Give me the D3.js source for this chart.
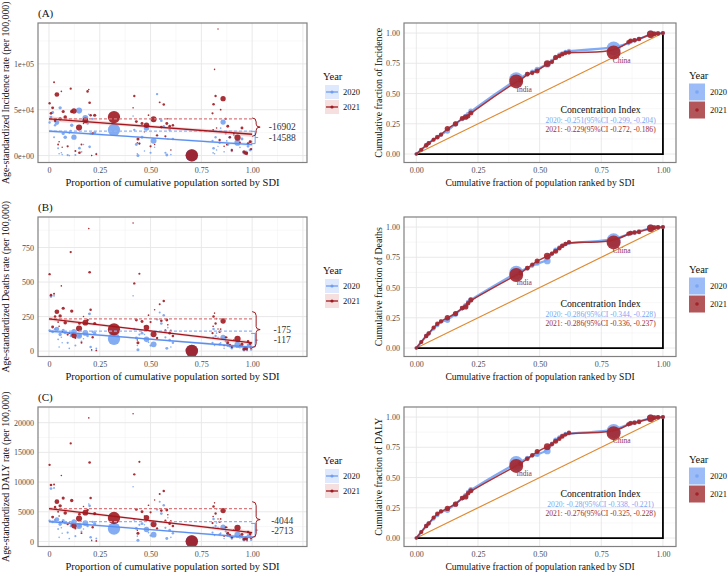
<!DOCTYPE html>
<html>
<head>
<meta charset="utf-8">
<script src="https://cdn.jsdelivr.net/npm/d3@7"></script>
<style>
  body { margin: 0; background: #fff; }
  svg { display: block; }
  text { font-family: "Liberation Serif", "Times New Roman", serif; }
</style>
</head>
<body>
<svg id="chart" width="728" height="572" font-family="Liberation Serif, serif"></svg>
<script>
// ---- left panels: countries, position on cumulative population sorted by SDI ----
const sdiPos = [0.003, 0.010, 0.018, 0.025, 0.030, 0.039, 0.045, 0.055, 0.061, 0.070,
  0.080, 0.092, 0.107, 0.112, 0.123, 0.130, 0.148, 0.160, 0.179, 0.190,
  0.196, 0.200, 0.205, 0.215, 0.225, 0.233, 0.320, 0.414, 0.420, 0.430,
  0.438, 0.445, 0.458, 0.480, 0.500, 0.515, 0.532, 0.545, 0.553, 0.565,
  0.573, 0.580, 0.594, 0.610, 0.703, 0.805, 0.810, 0.815, 0.820, 0.832,
  0.840, 0.857, 0.870, 0.880, 0.890, 0.900, 0.928, 0.950, 0.960, 0.970,
  0.980, 0.990, 0.995,
  0.050, 0.065, 0.100, 0.150, 0.170, 0.210, 0.435, 0.470, 0.490, 0.520,
  0.585, 0.600, 0.808, 0.825, 0.845, 0.862, 0.875, 0.910, 0.940, 0.975]
const popM = [20, 30, 40, 10, 25, 150, 8, 60, 4, 50,
  70, 15, 18, 60, 200, 12, 280, 9, 250, 25,
  4, 30, 25, 20, 50, 8, 1380, 3, 20, 40,
  45, 15, 40, 220, 15, 260, 20, 10, 30, 25,
  15, 40, 30, 25, 1400, 15, 25, 3, 20, 2,
  20, 200, 15, 40, 25, 20, 300, 40, 60, 80,
  30, 40, 20,
  4, 3, 5, 30, 3, 2, 3, 3, 5, 3,
  4, 4, 5, 4, 6, 4, 5, 6, 5, 5]
const inc2020 = [36000, 42000, 47000, 20000, 33000, 36000, 8000, 52000, 3000, 24000,
  20000, 500, 27000, 33000, 20000, 500, 49000, 4000, 41000, 35000,
  45000, 9500, 24000, 40000, 25000, 2000, 28000, 43000, 28000, 12000,
  100, 13000, 20000, 30000, 3000, 16000, 67000, 40000, 38000, 32000,
  3000, 500, 28000, 18000, 200, 16000, 8000, 2000, 20000, 10000,
  14000, 36500, 24000, 12000, 20000, 5000, 14000, 18000, 3000, 3500,
  10000, 6000, 15000,
  2000, 1000, 0, 8000, 12000, 0, 2000, 5000, 33000, 9000,
  18000, 1000, 3000, 6000, 30000, 4000, 16000, 22000, 9000, 1000]
const inc2021 = [57000, 46000, 52000, 80000, 38000, 66600, 12000, 40000, 70000, 48000,
  42000, 10000, 73000, 48000, 48600, 5000, 30500, 12000, 38400, 70000,
  72000, 57600, 44000, 24000, 44000, 1400, 42000, 52000, 65000, 37000,
  18000, 13000, 35000, 33000, 10000, 39500, 22000, 58000, 31000, 55600,
  21000, 35000, 32000, 33000, 200, 46000, 56000, 94000, 65000, 138000,
  17000, 62000, 40000, 32000, 20000, 6000, 19600, 30000, 4000, 2500,
  13000, 15000, 7000,
  15000, 9000, 25000, 3000, 35000, 0, 14000, 26000, 44000, 12000,
  40000, 6000, 28000, 30000, 50000, 10000, 12000, 24000, 14000, 3000]
const dth2020 = [150, 395, 140, 400, 158, 160, 85, 120, 100, 150,
  135, 60, 110, 125, 140, 40, 111, 70, 132, 110,
  270, 270, 30, 140, 130, 20, 89, 400, 160, 95,
  10, 120, 130, 85, 40, 49, 230, 280, 200, 260,
  100, 20, 80, 60, 1, 60, 160, 40, 110, 100,
  50, 100, 70, 40, 35, 20, 45, 35, 10, 25,
  45, 40, 12,
  30, 60, 20, 110, 90, 5, 40, 120, 65, 140,
  170, 30, 100, 130, 60, 20, 55, 30, 25, 5]
const dth2021 = [557, 405, 175, 415, 250, 285, 210, 255, 472, 310,
  205, 120, 717, 290, 113, 95, 164, 60, 206, 225,
  887, 571, 300, 100, 200, 5, 157, 928, 490, 225,
  60, 560, 215, 170, 210, 122, 95, 340, 220, 363,
  150, 225, 130, 110, 1, 130, 250, 275, 200, 160,
  140, 218, 100, 60, 45, 30, 89, 50, 15, 20,
  70, 55, 25,
  180, 140, 130, 200, 250, 10, 80, 180, 260, 300,
  190, 150, 180, 235, 160, 40, 100, 80, 40, 10]
const daly2020 = [3500, 8900, 3300, 9000, 3600, 3700, 2100, 2900, 2300, 3500,
  3200, 1500, 2600, 2950, 3300, 900, 2600, 1700, 3100, 2600,
  6300, 6000, 700, 3300, 3000, 500, 2150, 9200, 3700, 2200,
  200, 2800, 3000, 2000, 1000, 1150, 5400, 6700, 4700, 6100,
  2300, 500, 1900, 1400, 20, 1500, 3800, 1000, 2600, 2400,
  1200, 2400, 1700, 1000, 900, 500, 1100, 800, 300, 600,
  1000, 900, 300,
  700, 1400, 500, 2600, 2100, 100, 900, 2800, 1500, 3300,
  4000, 700, 2400, 3100, 1400, 500, 1300, 700, 600, 100]
const daly2021 = [12900, 9500, 4100, 9600, 5800, 6700, 5000, 6000, 11100, 7300,
  4800, 2900, 16500, 6900, 2650, 2200, 3850, 1400, 4850, 5300,
  20800, 13300, 7300, 2400, 4700, 100, 3950, 21500, 11300, 5400,
  1400, 13400, 5000, 4000, 4900, 2900, 2200, 8000, 5200, 8500,
  3500, 5300, 3000, 2600, 20, 3100, 5900, 6500, 4700, 3800,
  3300, 5200, 2400, 1400, 1100, 700, 2300, 1200, 400, 500,
  1600, 1300, 600,
  4300, 3300, 3100, 4600, 5900, 200, 1900, 4300, 6100, 7000,
  4500, 3500, 4200, 5500, 3800, 900, 2400, 1900, 900, 250]

// slope index of inequality: intercept and slope, [2020, 2021]
const incIntercept = [26600, 40100], incSII = [-14588, -16902]
const dthIntercept = [145, 234], dthSII = [-117, -175]
const dalyIntercept = [3350, 5520], dalySII = [-2713, -4044]
// confidence band half width [middle, ends]
const incBand = [[900, 1600], [1600, 2900]]
const dthBand = [[6, 11], [7, 15]]
const dalyBand = [[130, 250], [170, 340]]
// bracket extent [top, bottom]
const incBrace = [[26400, 13000], [41000, 21000]]
const dthBrace = [[128, 31], [286, 26]]
const dalyBrace = [[3040, 790], [6700, 680]]
const incLabelY = [19600, 31500], dthLabelY = [82, 155], dalyLabelY = [1810, 3500]

const incTicks = [0, 50000, 100000], incTickLabels = ["0e+00", "5e+04", "1e+05"]
const dthTicks = [0, 250, 500, 750], dthTickLabels = ["0", "250", "500", "750"]
const dalyTicks = [0, 5000, 10000, 15000, 20000], dalyTickLabels = ["0", "5000", "10000", "15000", "20000"]
const sdiTicks = [0, 0.25, 0.5, 0.75, 1], sdiTickLabels = ["0", "0.25", "0.50", "0.75", "1.00"]

// ---- right panels: concentration curves ----
const ccPos = [0, .02, .04, .05, .07, .085, .1, .126, .159, .186, .2, .21, .221, .405, .423, .45, .47,
  .49, .531, .55, .565, .58, .592, .605, .619, .8, .86, .869, .885, .903, .95, .965, .98, 1]
const ccPop = [2, 10, 20, 15, 10, 20, 15, 60, 50, 30, 60, 20, 40, 1380, 20, 25, 15,
  40, 150, 15, 40, 20, 25, 15, 15, 1400, 15, 30, 20, 20, 200, 25, 20, 10]
const incCum2020 = [0, .035, .07, .09, .12, .14, .16, .19, .25, .29, .31, .33, .355, .618, .63, .66, .68,
  .70, .742, .77, .80, .82, .83, .845, .853, .873, .915, .93, .94, .95, .99, .995, .998, 1]
const incCum2021 = [0, .035, .072, .09, .118, .139, .16, .21, .25, .294, .305, .313, .34, .60, .61, .66, .67,
  .687, .748, .76, .798, .81, .825, .835, .839, .839, .925, .936, .94, .95, .99, .993, .996, 1]
const dthCum2020 = [0, .05, .10, .12, .16, .19, .22, .23, .28, .33, .35, .38, .40, .623, .635, .66, .68,
  .70, .72, .78, .81, .83, .845, .86, .87, .89, .94, .95, .955, .965, .99, .995, .998, 1]
const dthCum2021 = [0, .05, .10, .12, .17, .20, .22, .25, .285, .33, .34, .37, .396, .604, .62, .66, .69,
  .72, .76, .78, .80, .825, .845, .86, .875, .873, .945, .95, .955, .96, .99, .995, .998, 1]
const dalyCum2020 = [0, .05, .10, .12, .16, .19, .22, .23, .28, .33, .35, .38, .40, .62, .63, .66, .68,
  .69, .72, .78, .81, .83, .845, .86, .865, .885, .94, .95, .955, .965, .99, .995, .998, 1]
const dalyCum2021 = [0, .05, .10, .12, .17, .20, .22, .245, .28, .33, .34, .37, .39, .596, .615, .655, .685,
  .715, .755, .775, .80, .82, .84, .855, .87, .867, .94, .948, .953, .96, .99, .995, .998, 1]
const ccTicks = [0, 0.25, 0.5, 0.75, 1], ccTickLabels = ["0.00", "0.25", "0.50", "0.75", "1.00"]
const ciText = [
  ["2020: -0.251(95%CI -0.299, -0.204)", "2021: -0.229(95%CI -0.272, -0.186)"],
  ["2020: -0.286(95%CI -0.344, -0.228)", "2021: -0.286(95%CI -0.336, -0.237)"],
  ["2020: -0.28(95%CI -0.338, -0.221)", "2021: -0.276(95%CI -0.325, -0.228)"]]
const years = ["2020", "2021"]

const svg = d3.select("#chart")
const cols = ["#6f9df0", "#9e1a20"]
const dashCols = ["#8fb4f5", "#d9797c"]
const bandCols = ["#c9dbfb", "#f0c9ca"]
const rowOff = [0, 194, 384]

function grid(g, x, y, xMaj, xMin, yMaj, yMin, x0, x1, y0, y1) {
  g.selectAll(null).data(xMin).enter().append("line")
    .attr("x1", d => x(d)).attr("x2", d => x(d)).attr("y1", y0).attr("y2", y1)
    .attr("stroke", "#f3f3f3").attr("stroke-width", 0.6)
  g.selectAll(null).data(yMin).enter().append("line")
    .attr("y1", d => y(d)).attr("y2", d => y(d)).attr("x1", x0).attr("x2", x1)
    .attr("stroke", "#f3f3f3").attr("stroke-width", 0.6)
  g.selectAll(null).data(xMaj).enter().append("line")
    .attr("x1", d => x(d)).attr("x2", d => x(d)).attr("y1", y0).attr("y2", y1)
    .attr("stroke", "#e6e6e6").attr("stroke-width", 0.9)
  g.selectAll(null).data(yMaj).enter().append("line")
    .attr("y1", d => y(d)).attr("y2", d => y(d)).attr("x1", x0).attr("x2", x1)
    .attr("stroke", "#e6e6e6").attr("stroke-width", 0.9)
}

function axes(g, x, y, xT, xL, yT, yL, x0, y1) {
  const ax = g.append("g").attr("transform", `translate(0,${y1})`)
    .call(d3.axisBottom(x).tickValues(xT).tickFormat((d, k) => xL[k]).tickSize(0).tickPadding(5))
  const ay = g.append("g").attr("transform", `translate(${x0},0)`)
    .call(d3.axisLeft(y).tickValues(yT).tickFormat((d, k) => yL[k]).tickSize(0).tickPadding(4))
  for (const a of [ax, ay]) {
    a.attr("font-family", "Liberation Serif, serif")
    a.select(".domain").remove()
    a.selectAll("text").attr("font-size", 8).attr("fill", "#4d4d4d")
  }
}

function leftPanel(i, tag, yTitle, v20, v21, yDom, yT, yL, icpt, sii, band, brace, labY) {
  const off = rowOff[i], top = 23 + off, bot = 162.5 + off
  const x = d3.scaleLinear().domain([-0.054, 1.27]).range([38, 307])
  const y = d3.scaleLinear().domain(yDom).range([bot, top])
  const r = d3.scaleSqrt().domain([0, 1400]).range([0.5, 6.2])
  const g = svg.append("g")
  const step = yT[1] - yT[0]
  grid(g, x, y, [0, .25, .5, .75, 1, 1.25], [.125, .375, .625, .875, 1.125],
    d3.range(0, yDom[1], step), d3.range(step / 2, yDom[1], step), 38, 307, top, bot)

  g.append("clipPath").attr("id", "cl" + i).append("rect")
    .attr("x", 38).attr("y", top).attr("width", 269).attr("height", bot - top)
  const p = g.append("g").attr("clip-path", `url(#cl${i})`)
  const xs = d3.range(0, 1.0001, 0.02)

  ;[v20, v21].forEach((vals, k) => {
    // confidence band
    const hw = t => Math.sqrt(band[k][0] ** 2 + (band[k][1] ** 2 - band[k][0] ** 2) * ((t - 0.5) / 0.5) ** 2)
    p.append("path").datum(xs)
      .attr("d", d3.area().x(t => x(t)).y0(t => y(icpt[k] + sii[k] * t - hw(t))).y1(t => y(icpt[k] + sii[k] * t + hw(t))))
      .attr("fill", bandCols[k]).attr("opacity", 0.75)
  })
  ;[v20, v21].forEach((vals, k) => {
    p.selectAll(null).data(sdiPos.map((s, j) => ({ s, v: vals[j], n: popM[j] }))).enter()
      .append("circle")
      .attr("cx", d => x(d.s)).attr("cy", d => y(d.v)).attr("r", d => r(d.n))
      .attr("fill", cols[k]).attr("opacity", k ? 0.9 : 0.85)
  })
  ;[v20, v21].forEach((vals, k) => {
    // dashed reference at intercept
    p.append("line").attr("x1", x(0)).attr("x2", x(1)).attr("y1", y(icpt[k])).attr("y2", y(icpt[k]))
      .attr("stroke", dashCols[k]).attr("stroke-width", 1.2).attr("stroke-dasharray", "3,2")
    p.append("line").attr("x1", x(0)).attr("x2", x(1))
      .attr("y1", y(icpt[k])).attr("y2", y(icpt[k] + sii[k]))
      .attr("stroke", k ? "#a3161d" : "#5a8ff0").attr("stroke-width", 1.3)
    // brackets
    const bx = x(1), ya = y(brace[k][0]), yb = y(brace[k][1]), ym = (ya + yb) / 2
    if (k === 0) {
      p.append("path")
        .attr("d", `M${bx - 1},${ya}L${bx + 3},${ya}L${bx + 3},${yb}L${bx - 1},${yb}M${bx + 3},${ym}L${bx + 6},${ym}`)
        .attr("fill", "none").attr("stroke", cols[0]).attr("stroke-width", 1)
    } else {
      const w = 4
      p.append("path")
        .attr("d", `M${bx},${ya}Q${bx + w},${ya} ${bx + w},${ya + 4}L${bx + w},${ym - 3}Q${bx + w},${ym} ${bx + 2 * w},${ym}` +
          `Q${bx + w},${ym} ${bx + w},${ym + 3}L${bx + w},${yb - 4}Q${bx + w},${yb} ${bx},${yb}`)
        .attr("fill", "none").attr("stroke", cols[1]).attr("stroke-width", 1)
    }
    p.append("text").attr("x", x(1.148)).attr("y", y(labY[k])).attr("dy", "0.35em")
      .attr("text-anchor", "middle").attr("font-size", 9.5).attr("fill", "#333")
      .text(d3.format("d")(sii[k]).replace("−", "-"))
  })

  g.append("rect").attr("x", 38).attr("y", top).attr("width", 269).attr("height", bot - top)
    .attr("fill", "none").attr("stroke", "#808080").attr("stroke-width", 1.2)
  axes(g, x, y, sdiTicks, sdiTickLabels, yT, yL, 38, bot)

  g.append("text").attr("x", 38).attr("y", top - 6).attr("font-size", 11).attr("fill", "#111").text(tag)
  g.append("text").attr("x", 172.5).attr("y", bot + 23.5).attr("text-anchor", "middle")
    .attr("font-size", 10.5).attr("fill", "#111").text("Proportion of cumulative population sorted by SDI")
  g.append("text").attr("transform", `translate(9,${(top + bot) / 2}) rotate(-90)`).attr("text-anchor", "middle")
    .attr("font-size", 9.8).attr("fill", "#111").text(yTitle)

  // legend
  const lg = g.append("g").attr("transform", `translate(323,${off})`)
  lg.append("text").attr("x", 0).attr("y", 80).attr("font-size", 10.5).attr("fill", "#111").text("Year")
  years.forEach((yr, k) => {
    const cy = 92 + k * 15
    lg.append("rect").attr("x", 2).attr("y", cy - 7).attr("width", 14).attr("height", 14)
      .attr("fill", bandCols[k]).attr("opacity", 0.6)
    lg.append("line").attr("x1", 3).attr("x2", 15).attr("y1", cy).attr("y2", cy)
      .attr("stroke", cols[k]).attr("stroke-width", 1.3)
    lg.append("circle").attr("cx", 9).attr("cy", cy).attr("r", 1.6).attr("fill", cols[k])
    lg.append("text").attr("x", 20).attr("y", cy).attr("dy", "0.35em").attr("font-size", 8.5)
      .attr("fill", "#111").text(yr)
  })
}

function rightPanel(i, yTitle, c20, c21, ci) {
  const off = rowOff[i], top = 23 + off, bot = 162.5 + off
  const x = d3.scaleLinear().domain([-0.05, 1.053]).range([404, 676])
  const y = d3.scaleLinear().domain([-0.07, 1.083]).range([bot, top])
  const r = d3.scaleSqrt().domain([0, 1400]).range([1.6, 7])
  const g = svg.append("g")
  grid(g, x, y, ccTicks, [.125, .375, .625, .875], ccTicks, [.125, .375, .625, .875], 404, 676, top, bot)

  g.append("line").attr("x1", x(0)).attr("y1", y(0)).attr("x2", x(1)).attr("y2", y(1))
    .attr("stroke", "#e08b32").attr("stroke-width", 1.2)
  g.append("path").attr("d", `M${x(0)},${y(0)}L${x(1)},${y(0)}L${x(1)},${y(1)}`)
    .attr("fill", "none").attr("stroke", "#000").attr("stroke-width", 1.8)

  const line = d3.line().x(d => x(d[0])).y(d => y(d[1])).curve(d3.curveBasis)
  ;[c20, c21].forEach((cum, k) => {
    const pts = ccPos.map((s, j) => [s, cum[j], ccPop[j]])
    g.selectAll(null).data(pts).enter().append("circle")
      .attr("cx", d => x(d[0])).attr("cy", d => y(d[1])).attr("r", d => r(d[2]))
      .attr("fill", k ? "#a3232b" : "#7aa6f3").attr("opacity", k ? 0.9 : 0.85)
    g.append("path").datum(pts).attr("d", line).attr("fill", "none")
      .attr("stroke", k ? "#a52a2e" : "#7aa6f3").attr("stroke-width", k ? 1.5 : 2.2).attr("opacity", 0.95)
  })
  // country labels next to India and China
  const iInd = ccPop.indexOf(1380), iChn = ccPop.indexOf(1400)
  ;[["India", iInd], ["China", iChn]].forEach(([nm, j]) => {
    g.append("text").attr("x", x(ccPos[j]) + 8).attr("y", y(c21[j]) + 7.5).attr("dy", "0.35em")
      .attr("text-anchor", "middle").attr("font-family", "Liberation Sans").attr("font-size", 7.5)
      .attr("fill", "#8a3568").text(nm)
  })
  g.append("text").attr("x", x(0.747)).attr("y", y(0.37)).attr("dy", "0.35em").attr("text-anchor", "middle")
    .attr("font-size", 9.8).attr("fill", "#111").text("Concentration Index")
  ci.forEach((t, k) => {
    g.append("text").attr("x", x(0.747)).attr("y", y(k ? 0.2 : 0.275)).attr("dy", "0.35em")
      .attr("text-anchor", "middle").attr("font-size", 7.6).attr("fill", k ? "#a52a2e" : "#7aa6f3").text(t)
  })

  g.append("rect").attr("x", 404).attr("y", top).attr("width", 272).attr("height", bot - top)
    .attr("fill", "none").attr("stroke", "#808080").attr("stroke-width", 1.2)
  axes(g, x, y, ccTicks, ccTickLabels, ccTicks, ccTickLabels, 404, bot)
  g.append("text").attr("x", 540).attr("y", bot + 23.5).attr("text-anchor", "middle")
    .attr("font-size", 9.6).attr("fill", "#111").text("Cumulative fraction of population ranked by SDI")
  g.append("text").attr("transform", `translate(382,${(top + bot) / 2}) rotate(-90)`).attr("text-anchor", "middle")
    .attr("font-size", 9.8).attr("fill", "#111").text(yTitle)

  const lg = g.append("g").attr("transform", `translate(689,${off})`)
  lg.append("text").attr("x", 0).attr("y", 79).attr("font-size", 10.5).attr("fill", "#111").text("Year")
  years.forEach((yr, k) => {
    const cy = 92 + k * 18
    lg.append("rect").attr("x", 0).attr("y", cy - 8.5).attr("width", 16).attr("height", 17)
      .attr("fill", k ? "#b3565a" : "#9bbcf6")
    lg.append("circle").attr("cx", 8).attr("cy", cy).attr("r", 1.8).attr("fill", k ? "#a3232b" : "#7aa6f3")
    lg.append("text").attr("x", 21).attr("y", cy).attr("dy", "0.35em").attr("font-size", 8.5)
      .attr("fill", "#111").text(yr)
  })
}

leftPanel(0, "(A)", "Age-standardized Incidence rate (per 100,000)", inc2020, inc2021, [-7600, 144600],
  incTicks, incTickLabels, incIntercept, incSII, incBand, incBrace, incLabelY)
leftPanel(1, "(B)", "Age-standardized Deaths rate (per 100,000)", dth2020, dth2021, [-39, 971],
  dthTicks, dthTickLabels, dthIntercept, dthSII, dthBand, dthBrace, dthLabelY)
leftPanel(2, "(C)", "Age-standardized DALY rate (per 100,000)", daly2020, daly2021, [-845, 22635],
  dalyTicks, dalyTickLabels, dalyIntercept, dalySII, dalyBand, dalyBrace, dalyLabelY)
rightPanel(0, "Cumulative fraction of Incidence", incCum2020, incCum2021, ciText[0])
rightPanel(1, "Cumulative fraction of Deaths", dthCum2020, dthCum2021, ciText[1])
rightPanel(2, "Cumulative fraction of DALY", dalyCum2020, dalyCum2021, ciText[2])
</script>
</body>
</html>
